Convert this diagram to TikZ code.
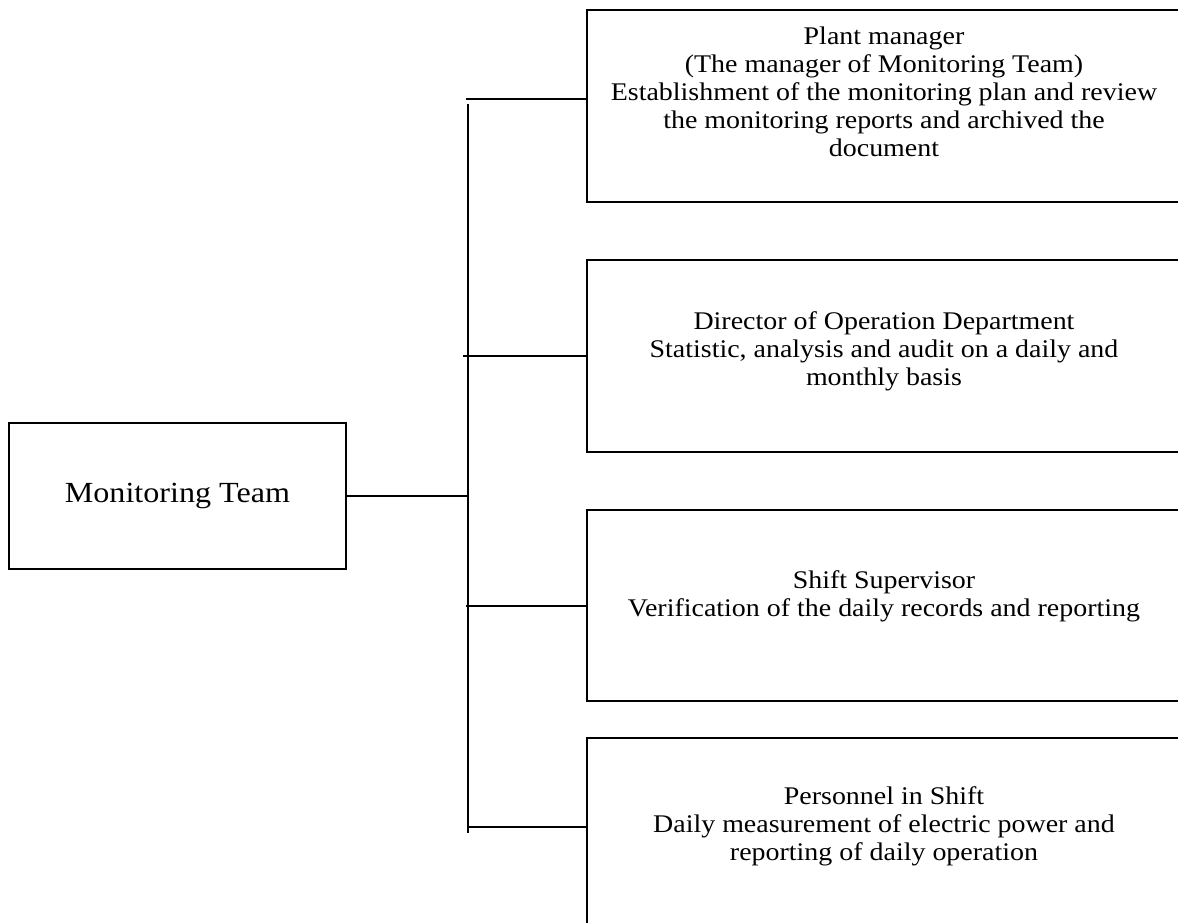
\documentclass[tikz,border=0pt]{standalone}
\usepackage{fontspec}
\setmainfont{Liberation Serif}
\newfontfamily\teamfont[FakeStretch=1.1]{Liberation Serif}
\newfontfamily\rolefont[FakeStretch=1.1]{Liberation Serif}
\tikzset{
  teambox/.style={draw, line width=2pt, minimum width=337pt, minimum height=146pt,
    font=\teamfont\fontsize{29.2}{33}\selectfont},
  rolebox/.style={draw, line width=2pt, anchor=north west, minimum width=640pt, inner sep=0pt},
  roletext/.style={align=center, inner sep=0pt, font=\rolefont\fontsize{25.4}{28}\selectfont},
  wire/.style={line width=2pt}
}
\begin{document}
\begin{tikzpicture}[x=1pt,y=-1pt]
\path[use as bounding box, clip] (0,0) rectangle (1178,923);
\node[teambox] (team) at (177.5,496) {Monitoring Team};
\node[rolebox, minimum height=192pt] (plant) at (586,9) {};
\node[rolebox, minimum height=192pt] (director) at (586,259) {};
\node[rolebox, minimum height=191pt] (supervisor) at (586,509) {};
\node[rolebox, minimum height=250pt] (personnel) at (586,737) {};
\node[roletext] (plantText) at (884,92) {Plant manager\\(The manager of Monitoring Team)\\Establishment of the monitoring plan and review\\the monitoring reports and archived the\\document};
\node[roletext] (directorText) at (884,351) {Director of Operation Department\\Statistic, analysis and audit on a daily and\\monthly basis};
\node[roletext] (supervisorText) at (884,596) {Shift Supervisor\\Verification of the daily records and reporting};
\node[roletext] (personnelText) at (884,826) {Personnel in Shift\\Daily measurement of electric power and\\reporting of daily operation};
\path (468,104) coordinate(busTop)
(468,833) coordinate(busEnd)
(466,99) coordinate(c1)
(463,356) coordinate(c2)
(466,606) coordinate(c3)
(468,827) coordinate(c4);
\draw[wire] (busTop) -- (busEnd);
\draw[wire] (team.east) -- (team.east -| busTop);
\draw[wire] (c1) -- (c1 -| plant.west)
(c2) -- (c2 -| director.west)
(c3) -- (c3 -| supervisor.west)
(c4) -- (c4 -| personnel.west);
\end{tikzpicture}
\end{document}
